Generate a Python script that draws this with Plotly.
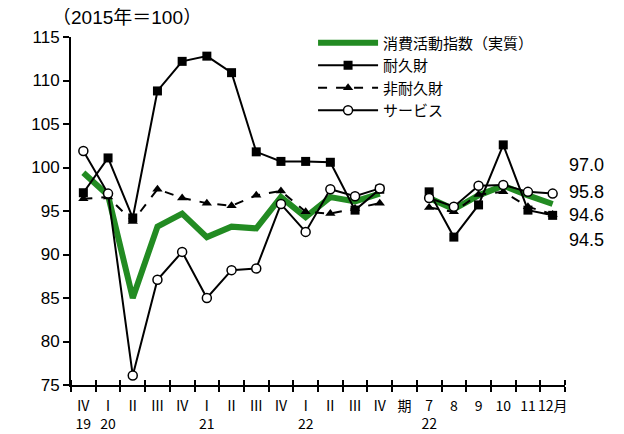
import plotly.graph_objects as go

# Category labels (slot 13 is the gap between quarterly and monthly data)
tick_labels = ["Ⅳ<br>19", "Ⅰ<br>20", "Ⅱ", "Ⅲ", "Ⅳ", "Ⅰ<br>21", "Ⅱ", "Ⅲ", "Ⅳ",
               "Ⅰ<br>22", "Ⅱ", "Ⅲ", "Ⅳ", "期", "7<br>22", "8", "9", "10", "11", "12月"]

consumption = [99.4, 96.8, 85.0, 93.2, 94.7, 92.0, 93.2, 93.0, 96.6, 94.3, 96.6, 96.1, 97.0,
               None, 96.5, 95.2, 96.8, 97.9, 96.8, 95.8]
durable = [97.1, 101.1, 94.2, 108.8, 112.2, 112.8, 110.9, 101.8, 100.7, 100.7, 100.6, 95.1, 97.5,
           None, 97.2, 92.0, 95.7, 102.6, 95.1, 94.5]
nondurable = [96.4, 96.6, 93.8, 97.5, 96.5, 95.9, 95.6, 96.8, 97.3, 94.9, 94.7, 95.3, 95.9,
              None, 95.4, 94.9, 96.9, 97.2, 95.5, 94.6]
services = [101.9, 97.0, 76.1, 87.1, 90.3, 85.0, 88.2, 88.4, 95.8, 92.6, 97.5, 96.7, 97.6,
            None, 96.5, 95.5, 97.9, 98.0, 97.2, 97.0]

names = ["消費活動指数（実質）", "耐久財", "非耐久財", "サービス"]

x = list(range(len(tick_labels)))
FONT = "Liberation Sans, Noto Sans CJK JP, sans-serif"
JP = "Noto Sans CJK JP, sans-serif"

fig = go.Figure()
fig.add_trace(go.Scatter(x=x, y=consumption, name=names[0], mode="lines",
                         line=dict(color="#228B22", width=6), connectgaps=False))
fig.add_trace(go.Scatter(x=x, y=durable, name=names[1], mode="lines+markers",
                         line=dict(color="black", width=2),
                         marker=dict(symbol="square", size=9, color="black"), connectgaps=False))
fig.add_trace(go.Scatter(x=x, y=nondurable, name=names[2], mode="lines+markers",
                         line=dict(color="black", width=2, dash="dash"),
                         marker=dict(symbol="triangle-up", size=9, color="black"), connectgaps=False))
fig.add_trace(go.Scatter(x=x, y=services, name=names[3], mode="lines+markers",
                         line=dict(color="black", width=2),
                         marker=dict(symbol="circle", size=9, color="white",
                                     line=dict(color="black", width=1.5)), connectgaps=False))
# helper trace so the overlay axis (inner half of crossing ticks) is drawn
fig.add_trace(go.Scatter(x=[0], y=[None], xaxis="x2", showlegend=False, hoverinfo="skip"))

# right-side end labels (last monthly values)
end_vals = [services[-1], consumption[-1], nondurable[-1], durable[-1]]
end_y = [100.3, 97.2, 94.5, 91.7]
for v, yy in zip(end_vals, end_y):
    fig.add_annotation(x=1.005, xref="paper", y=yy, yref="y", text=f"{v:.1f}",
                       showarrow=False, xanchor="left", yanchor="middle",
                       font=dict(family=FONT, size=18, color="black"))

fig.add_annotation(x=-0.042, xref="paper", y=1.0, yref="paper", yanchor="middle",
                   xanchor="left", text="（2015年＝100）", showarrow=False, yshift=20,
                   font=dict(family=FONT, size=19, color="black"))

minor_common = dict(tick0=-0.5, dtick=1, ticklen=5, tickwidth=2, tickcolor="black",
                    showgrid=False)

fig.update_layout(
    width=624, height=434,
    margin=dict(l=63, r=67, t=29, b=57),
    paper_bgcolor="white", plot_bgcolor="white",
    showlegend=True,
    legend=dict(x=0.49, y=1.03, xanchor="left", yanchor="top", itemwidth=60,
                font=dict(family=JP, size=15, color="black"),
                bgcolor="rgba(0,0,0,0)", tracegroupgap=0),
    xaxis=dict(range=[-0.5, len(tick_labels) - 0.5], tickmode="array", tickvals=x,
               ticktext=tick_labels, ticks="", showgrid=False, zeroline=False,
               showline=True, linecolor="black", linewidth=2, ticklabelstandoff=7,
               automargin=False,
               tickfont=dict(family=JP, size=14, color="black"),
               minor=dict(ticks="outside", **minor_common)),
    xaxis2=dict(range=[-0.5, len(tick_labels) - 0.5], overlaying="x", anchor="y",
                side="bottom", showline=False, showgrid=False, zeroline=False,
                tickmode="array", tickvals=[], showticklabels=False, ticks="",
                automargin=False,
                minor=dict(ticks="inside", **minor_common)),
    yaxis=dict(range=[75, 115], dtick=5, ticks="outside", ticklen=6, tickwidth=2,
               tickcolor="black", showgrid=False, zeroline=False, automargin=False,
               showline=True, linecolor="black", linewidth=2,
               tickfont=dict(family=FONT, size=17, color="black")),
)

fig.write_html("out.html")
